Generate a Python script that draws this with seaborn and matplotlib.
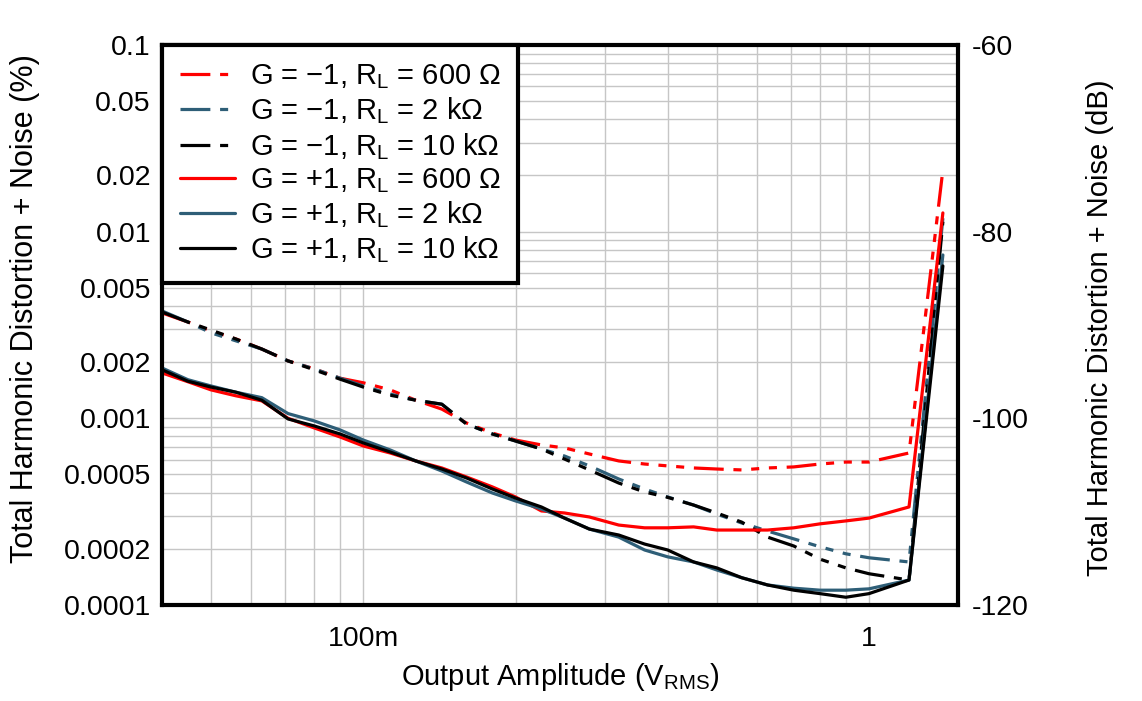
import matplotlib
matplotlib.use("Agg")
import matplotlib.pyplot as plt
import matplotlib.ticker as mticker
import seaborn as sns

# Output amplitude (Vrms)
amplitude = [0.04, 0.045, 0.05, 0.056, 0.063, 0.071, 0.08, 0.09, 0.1, 0.113, 0.127,
             0.143, 0.16, 0.18, 0.2, 0.225, 0.25, 0.28, 0.32, 0.36, 0.4, 0.45, 0.5,
             0.56, 0.63, 0.71, 0.8, 0.9, 1.0, 1.2, 1.4]

# THD+N (%)
inv_600 = [0.00367, 0.00328, 0.00294, 0.00266, 0.00235, 0.00203, 0.00184, 0.00164,
           0.00155, 0.00142, 0.00125, 0.00112, 0.000944, 0.000834, 0.000765, 0.000720,
           0.000694, 0.000644, 0.000591, 0.000569, 0.000556, 0.000542, 0.000535,
           0.000529, 0.000542, 0.000549, 0.000569, 0.000583, 0.000583, 0.000652, 0.0214]
inv_2k = [0.00376, 0.00328, 0.00287, 0.00260, 0.00235, 0.00203, 0.00184, 0.00164,
          0.00149, 0.00135, 0.00125, 0.00119, 0.000932, 0.000824, 0.000756, 0.000685,
          0.000628, 0.000556, 0.000473, 0.000418, 0.000379, 0.000343, 0.000307,
          0.000275, 0.000249, 0.000226, 0.000205, 0.000188, 0.000179, 0.000170, 0.0118]
inv_10k = [0.00371, 0.00328, 0.00297, 0.00266, 0.00235, 0.00203, 0.00182, 0.00162,
           0.00147, 0.00133, 0.00125, 0.00119, 0.000932, 0.000824, 0.000756, 0.000685,
           0.000605, 0.000529, 0.000450, 0.000403, 0.000377, 0.000343, 0.000311,
           0.000278, 0.000231, 0.000207, 0.000176, 0.000158, 0.000147, 0.000136, 0.0113]
non_600 = [0.00175, 0.00157, 0.00142, 0.00132, 0.00124, 0.00100, 0.000888, 0.000794,
           0.000711, 0.000652, 0.000591, 0.000542, 0.000485, 0.000429, 0.000379,
           0.000319, 0.000311, 0.000296, 0.000268, 0.000259, 0.000259, 0.000262,
           0.000252, 0.000252, 0.000252, 0.000259, 0.000272, 0.000282, 0.000292,
           0.000335, 0.0126]
non_2k = [0.00186, 0.00161, 0.00149, 0.00138, 0.00129, 0.00106, 0.000968, 0.000866,
          0.000765, 0.000677, 0.000591, 0.000522, 0.000456, 0.000398, 0.000361,
          0.000327, 0.000292, 0.000255, 0.000231, 0.000197, 0.000181, 0.000170,
          0.000154, 0.000140, 0.000128, 0.000123, 0.000120, 0.000120, 0.000122,
          0.000136, 0.0075]
non_10k = [0.00182, 0.00158, 0.00147, 0.00138, 0.00125, 0.000992, 0.000910, 0.000824,
           0.000738, 0.000660, 0.000591, 0.000535, 0.000479, 0.000418, 0.000374,
           0.000335, 0.000292, 0.000255, 0.000237, 0.000212, 0.000197, 0.000170,
           0.000158, 0.000140, 0.000128, 0.000120, 0.000115, 0.000110, 0.000115,
           0.000136, 0.00655]

y_ticks = [0.1, 0.05, 0.02, 0.01, 0.005, 0.002, 0.001, 0.0005, 0.0002, 0.0001]
y_ticklabels = ['0.1', '0.05', '0.02', '0.01', '0.005', '0.002', '0.001', '0.0005',
                '0.0002', '0.0001']
db_ticks = [0.1, 0.01, 0.001, 0.0001]
db_ticklabels = ['-60', '-80', '-100', '-120']

RED = '#FF0000'
BLUE = '#2E5E77'
BLACK = '#000000'

sns.set_style("white")
plt.rcParams['font.family'] = ['Liberation Sans', 'DejaVu Sans']
plt.rcParams['mathtext.default'] = 'regular'
plt.rcParams['lines.scale_dashes'] = False
plt.rcParams['text.color'] = 'black'
plt.rcParams['axes.labelcolor'] = 'black'

fig = plt.figure(figsize=(11.42, 7.01), dpi=100)
ax = fig.add_axes([0.1419, 0.137, 0.697, 0.7988])

series = [
    ('G = \u22121, R$_{L}$ = 600 \u03a9', inv_600, RED, True),
    ('G = \u22121, R$_{L}$ = 2 k\u03a9', inv_2k, BLUE, True),
    ('G = \u22121, R$_{L}$ = 10 k\u03a9', inv_10k, BLACK, True),
    ('G = +1, R$_{L}$ = 600 \u03a9', non_600, RED, False),
    ('G = +1, R$_{L}$ = 2 k\u03a9', non_2k, BLUE, False),
    ('G = +1, R$_{L}$ = 10 k\u03a9', non_10k, BLACK, False),
]

handles = []
for label, vals, color, dashed in series:
    sns.lineplot(x=amplitude, y=vals, ax=ax, color=color, linewidth=2.3,
                 sort=False, legend=False)
    line = ax.lines[-1]
    line.set_label(label)
    if dashed:
        # long dash followed by three short dashes
        line.set_dashes([21.5, 7, 5.8, 7, 5.8, 7, 5.8, 7])
    handles.append(line)

ax.set_xscale('log')
ax.set_yscale('log')
ax.set_xlim(0.04, 1.5)
ax.set_ylim(0.0001, 0.1)

ax.set_xticks([0.1, 1])
ax.set_xticklabels(['100m', '1'])
ax.xaxis.set_minor_formatter(mticker.NullFormatter())
ax.set_yticks(y_ticks)
ax.set_yticklabels(y_ticklabels)
ax.yaxis.set_minor_formatter(mticker.NullFormatter())
ax.tick_params(which='both', length=0, labelsize=20.5, colors='black')
ax.tick_params(axis='y', pad=8)
ax.tick_params(axis='x', pad=15)

ax.grid(True, which='both', color='#C6C6C6', linewidth=1.0)
ax.set_axisbelow(True)
for sp in ax.spines.values():
    sp.set_linewidth(3)
    sp.set_color('black')

ax.set_xlabel('Output Amplitude (V$_{RMS}$)', fontsize=21)
ax.set_ylabel('Total Harmonic Distortion + Noise (%)', fontsize=22)
ax.yaxis.label.set_va('center')
ax.yaxis.set_label_coords(-0.172, 0.529)
ax.xaxis.set_label_coords(0.5, -0.1)

ax2 = ax.twinx()
ax2.set_yscale('log')
ax2.set_ylim(0.0001, 0.1)
ax2.set_yticks(db_ticks)
ax2.set_yticklabels(db_ticklabels)
ax2.yaxis.set_minor_locator(mticker.NullLocator())
ax2.tick_params(which='both', length=0, labelsize=20.5, pad=10, colors='black')
ax2.grid(False)
for sp in ax2.spines.values():
    sp.set_visible(False)
ax2.set_ylabel('Total Harmonic Distortion + Noise (dB)', fontsize=21)
ax2.yaxis.label.set_va('center')
ax2.yaxis.set_label_coords(1.178, 0.495)

leg = ax.legend(handles=handles, loc='upper left', bbox_to_anchor=(0, 1),
                borderaxespad=0, fontsize=21, frameon=True, fancybox=False,
                framealpha=1, handlelength=1.9, handletextpad=0.5,
                labelspacing=0.15, borderpad=0.6)
leg.get_frame().set_edgecolor('black')
leg.get_frame().set_linewidth(3)
leg.set_zorder(10)

fig.savefig('out.png', dpi=100)
